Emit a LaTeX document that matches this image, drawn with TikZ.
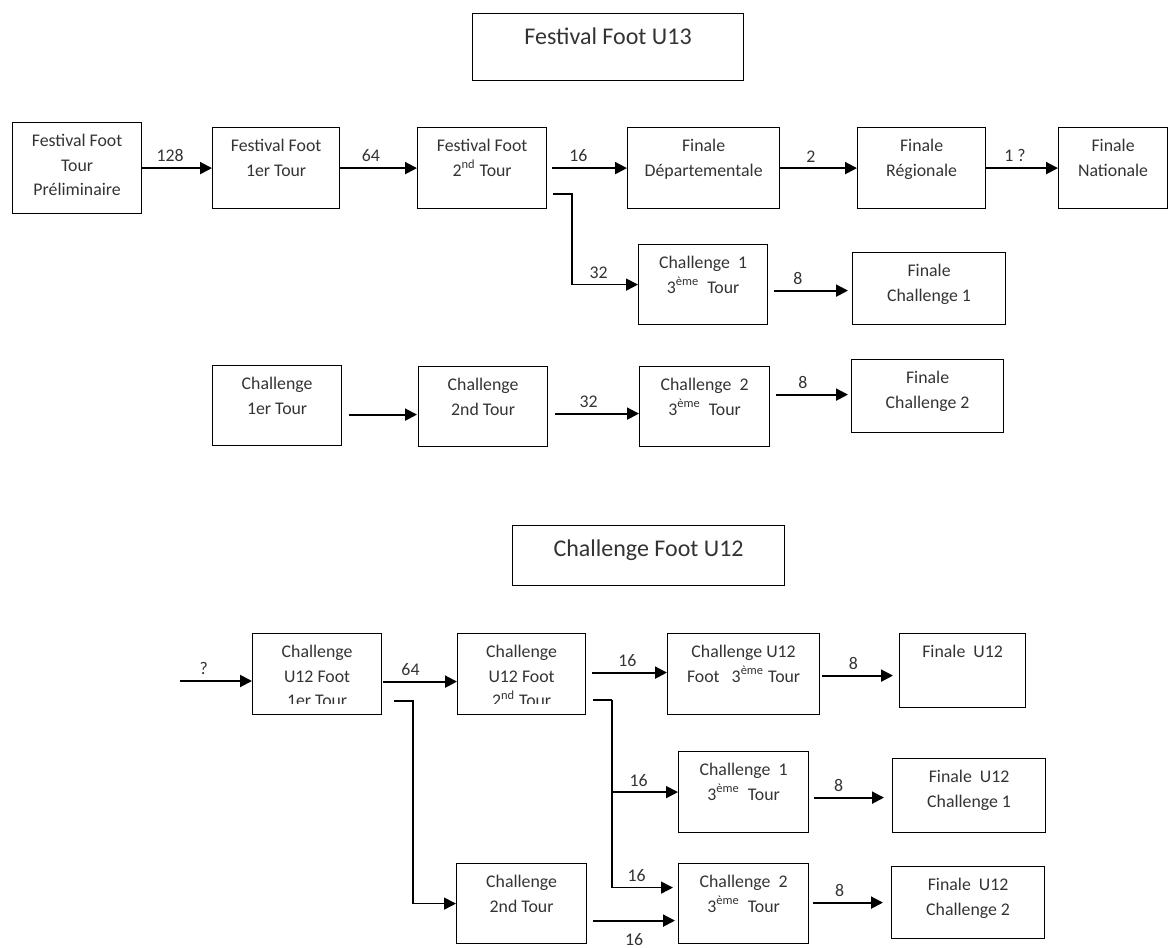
\documentclass[tikz,border=0pt]{standalone}
\usepackage{fontspec}
\setmainfont{Carlito}
\usetikzlibrary{arrows.meta,calc}

\begin{document}
\begin{tikzpicture}[x=0.5pt,y=-0.5pt,
        font=\fontsize{8.9}{12.25}\selectfont,
        every node/.style={text=black!80},
        box/.style={draw,rectangle,anchor=north west,line width=0.6pt,inner sep=0pt},
        txt/.style={anchor=north,align=center,inner sep=0pt,yshift=-6pt},
        ttl/.style={anchor=north,inner sep=0pt,yshift=-7pt,font=\fontsize{12}{14}\selectfont},
        arr/.style={line width=1pt,-{Triangle[length=6pt,width=6pt]}},
        branch/.style={line width=0.8pt},
        num/.style={above,pos=0.4,inner sep=2.5pt}]

    \useasboundingbox (0,0) rectangle (1168,948);

    % Festival Foot U13
    \node[box,minimum width=135.5pt,minimum height=33.5pt,label={[ttl]north:Festival Foot U13}] (u13) at (472,13) {};

    \node[box,minimum width=64.5pt,minimum height=45.5pt,label={[txt]north:{Festival Foot\\Tour\\Préliminaire}}] (prelim) at (12,122) {};
    \node[box,minimum width=63.5pt,minimum height=40.5pt,label={[txt]north:{Festival Foot\\1er Tour}}] (ff1) at (212,127) {};
    \node[box,minimum width=64.5pt,minimum height=40.5pt,label={[txt]north:{Festival Foot\\2\textsuperscript{nd} Tour}}] (ff2) at (417,127) {};
    \node[box,minimum width=76pt,minimum height=40.5pt,label={[txt]north:{Finale\\Départementale}}] (dep) at (627,127) {};
    \node[box,minimum width=64pt,minimum height=40.5pt,label={[txt]north:{Finale\\Régionale}}] (reg) at (857,127) {};
    \node[box,minimum width=54.5pt,minimum height=40.5pt,label={[txt]north:{Finale\\Nationale}}] (nat) at (1058,127) {};

    \node[box,minimum width=64.5pt,minimum height=40pt,label={[txt]north:{Challenge\ \ 1\\3\textsuperscript{ème}\ \ Tour}}] (ch1) at (638,244) {};
    \node[box,minimum width=76.5pt,minimum height=36pt,label={[txt]north:{Finale\\Challenge 1}}] (fch1) at (852,252) {};

    \node[box,minimum width=64.5pt,minimum height=40pt,label={[txt]north:{Challenge\\1er Tour}}] (chA) at (212,365) {};
    \node[box,minimum width=64.5pt,minimum height=40pt,label={[txt]north:{Challenge\\2nd Tour}}] (chB) at (418,366) {};
    \node[box,minimum width=65pt,minimum height=40pt,label={[txt]north:{Challenge\ \ 2\\3\textsuperscript{ème}\ \ Tour}}] (ch2) at (639,366) {};
    \node[box,minimum width=76pt,minimum height=36.5pt,label={[txt]north:{Finale\\Challenge 2}}] (fch2) at (851,359) {};

    \draw[arr] (prelim) -- (ff1) node[num]{128};
    \draw[arr] (ff1) -- (ff2) node[num]{64};
    \draw[arr] ([xshift=2.5pt]ff2.east) -- (dep) node[num,pos=0.35]{16};
    \draw[arr] (dep) -- (reg) node[num]{2};
    \draw[arr] (reg) -- (nat) node[num]{1 ?};
    \draw[arr,branch] ($(ff2.south east)+(6,-15)$) -- ++(19,0) |- (ch1.west) node[num,pos=0.7]{32};
    \draw[arr] ($(ch1.east)+(6,6)$) -- ($(ch1.east -| fch1.west)+(-4,6)$) node[num,pos=0.32]{8};

    \draw[arr] ($(chA.east)+(7,9)$) -- ($(chA.east -| chB.west)+(-1,9)$);
    \draw[arr] ($(chB.east)+(7,7)$) -- ($(chB.east -| ch2.west)+(0,7)$) node[num]{32};
    \draw[arr] ($(ch2.east)+(6,-12)$) -- ($(ch2.east -| fch2.west)+(-3,-12)$) node[num,pos=0.37]{8};

    % Challenge Foot U12
    \node[box,minimum width=136pt,minimum height=30pt,label={[ttl]north:Challenge Foot U12}] (u12) at (512,525) {};

    \node[box,minimum width=64.5pt,minimum height=40.5pt,label={[txt]north:{Challenge\\U12 Foot\\1er Tour}}] (cu1) at (252,633) {};
    \node[box,minimum width=64pt,minimum height=40.5pt,label={[txt]north:{Challenge\\U12 Foot\\2\textsuperscript{nd} Tour}}] (cu2) at (457,633) {};
    \node[box,minimum width=76pt,minimum height=40.5pt,label={[txt]north:{Challenge U12\\Foot\ \ \ 3\textsuperscript{ème} Tour}}] (cu3) at (667,633) {};
    \node[box,minimum width=63pt,minimum height=37pt,label={[txt]north:{Finale\ \ U12}}] (fu12) at (899,633) {};
    \fill[white] ($(cu1.south west)+(1,-11)$) rectangle ($(cu1.south east)+(-1,-1)$);
    \fill[white] ($(cu2.south west)+(1,-11)$) rectangle ($(cu2.south east)+(-1,-1)$);

    \node[box,minimum width=65pt,minimum height=40.5pt,label={[txt]north:{Challenge\ \ 1\\3\textsuperscript{ème}\ \ Tour}}] (uc1) at (678,751) {};
    \node[box,minimum width=76.5pt,minimum height=37pt,label={[txt]north:{Finale\ \ U12\\Challenge 1}}] (fuc1) at (892,758) {};
    \node[box,minimum width=65pt,minimum height=40pt,label={[txt]north:{Challenge\\2nd Tour}}] (uchB) at (456,863) {};
    \node[box,minimum width=65pt,minimum height=40pt,label={[txt]north:{Challenge\ \ 2\\3\textsuperscript{ème}\ \ Tour}}] (uc2) at (678,863) {};
    \node[box,minimum width=76.5pt,minimum height=36pt,label={[txt]north:{Finale\ \ U12\\Challenge 2}}] (fuc2) at (891,866) {};

    \coordinate (qin) at (180,681);
    \draw[arr] (qin) -- (qin -| cu1.west) node[num,pos=0.33]{?};
    \draw[arr] ($(cu1.east)+(1,7.5)$) -- ($(cu1.east -| cu2.west)+(0,7.5)$) node[num,pos=0.37]{64};
    \draw[arr] ($(cu2.east)+(6,-1.5)$) -- ($(cu2.east -| cu3.west)+(0,-1.5)$) node[num,pos=0.47]{16};
    \draw[arr] ($(cu3.east)+(2,1.5)$) -- ($(cu3.east -| fu12.west)+(-6,1.5)$) node[num,pos=0.44]{8};

    \draw[arr,branch] ($(cu1.south east)+(12,-14)$) -- ++(19,0) |- (uchB.west);
    \coordinate (nb) at ($(cu2.south east)+(7,-15)$);
    \coordinate (nv) at ($(nb)+(19,0)$);
    \draw[branch] (nb) -- (nv);
    \draw[arr,branch] (nv) |- (uc1.west) node[num,pos=0.7]{16};
    \draw[arr,branch] (nv) |- ($(uc2.west)+(-5,-16)$) node[num,pos=0.7]{16};
    \draw[arr] ($(uchB.east)+(6,17)$) -- ($(uchB.east -| uc2.west)+(-3,17)$) node[num,below,pos=0.5,yshift=-3.5pt]{16};

    \draw[arr] ($(uc1.east)+(5,5.5)$) -- ($(uc1.east -| fuc1.west)+(-8,5.5)$) node[num,pos=0.35]{8};
    \draw[arr] ($(uc2.east)+(4,-1)$) -- ($(uc2.east -| fuc2.west)+(-8,-1)$) node[num,pos=0.38]{8};
\end{tikzpicture}
\end{document}
